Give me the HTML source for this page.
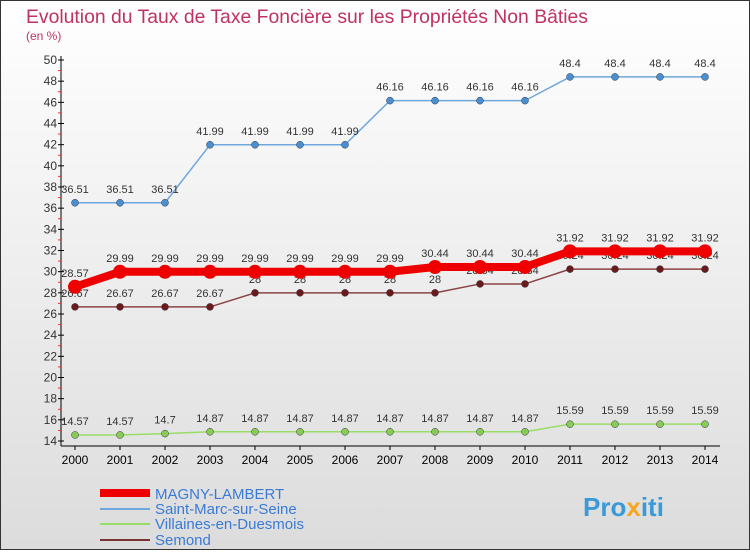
<!DOCTYPE html>
<html><head><meta charset="utf-8"><style>
body{margin:0;}
svg text{font-family:"Liberation Sans",sans-serif;}
</style></head><body>
<svg width="750" height="550" xmlns="http://www.w3.org/2000/svg">
<defs><linearGradient id="bg" x1="0" y1="0" x2="0" y2="1"><stop offset="0" stop-color="#ffffff"/><stop offset="1" stop-color="#dcdcdc"/></linearGradient></defs>
<rect x="0.5" y="0.5" width="749" height="549" fill="url(#bg)" stroke="#333"/>
<text x="26" y="23" font-size="19.5" fill="#c0325f" textLength="562" lengthAdjust="spacingAndGlyphs">Evolution du Taux de Taxe Foncière sur les Propriétés Non Bâties</text>
<text x="26" y="40" font-size="12" fill="#c0325f">(en %)</text>
<g id="axes"></g>
<g id="series"></g>
<g>
<line x1="100" y1="493" x2="150" y2="493" stroke="#ee0000" stroke-width="8"/>
<text x="155" y="499" font-size="15" fill="#3a7bd5">MAGNY-LAMBERT</text>
<line x1="100" y1="509" x2="150" y2="509" stroke="#6fa8dc" stroke-width="2"/>
<text x="155" y="514" font-size="15" fill="#3a7bd5">Saint-Marc-sur-Seine</text>
<line x1="100" y1="524" x2="150" y2="524" stroke="#99dd66" stroke-width="2"/>
<text x="155" y="529" font-size="15" fill="#3a7bd5">Villaines-en-Duesmois</text>
<line x1="100" y1="540" x2="150" y2="540" stroke="#7a3333" stroke-width="2"/>
<text x="155" y="545" font-size="15" fill="#3a7bd5">Semond</text>
</g>
<text x="583" y="516" font-size="26" font-weight="bold" fill="#3a9ad9">Pro<tspan fill="#f5a623">x</tspan>iti</text>
</svg>
<script>
const years=[2000,2001,2002,2003,2004,2005,2006,2007,2008,2009,2010,2011,2012,2013,2014];
const magny=[28.57,29.99,29.99,29.99,29.99,29.99,29.99,29.99,30.44,30.44,30.44,31.92,31.92,31.92,31.92];
const saintMarc=[36.51,36.51,36.51,41.99,41.99,41.99,41.99,46.16,46.16,46.16,46.16,48.4,48.4,48.4,48.4];
const villaines=[14.57,14.57,14.7,14.87,14.87,14.87,14.87,14.87,14.87,14.87,14.87,15.59,15.59,15.59,15.59];
const semond=[26.67,26.67,26.67,26.67,28,28,28,28,28,28.84,28.84,30.24,30.24,30.24,30.24];
const yTicks=[14,16,18,20,22,24,26,28,30,32,34,36,38,40,42,44,46,48,50];
const NS="http://www.w3.org/2000/svg";
const xs=i=>75+(705-75)*i/(years.length-1);
const ys=v=>441-(v-14)*(441-60)/36;
function mk(t,a,p){const e=document.createElementNS(NS,t);for(const k in a)e.setAttribute(k,a[k]);p.appendChild(e);return e;}
const ax=document.getElementById('axes');
const yl=mk('line',{x1:61,y1:56,x2:61,y2:446,stroke:'#000'},ax);


const xl=mk('line',{x1:61,y1:446,x2:720,y2:446,stroke:'#000'},ax);


yTicks.forEach(v=>{const y=ys(v);
mk('line',{x1:58,y1:y,x2:64,y2:y,stroke:'#000'},ax);
if(v<50)mk('line',{x1:58,y1:y-10.6,x2:61,y2:y-10.6,stroke:'#e33'},ax);
const t=mk('text',{x:57,y:y+4,'font-size':12,'text-anchor':'end',fill:'#333'},ax);t.textContent=v;

});
years.forEach((yr,i)=>{const x=xs(i);
mk('line',{x1:x,y1:446,x2:x,y2:450,stroke:'#000'},ax);
const t=mk('text',{x:x,y:464,'font-size':12,'text-anchor':'middle',fill:'#000'},ax);t.textContent=yr;

});
const sg=document.getElementById('series');
function draw(data,color,w,r,name,dot){
const pl=mk('polyline',{points:data.map((v,i)=>xs(i)+','+ys(v)).join(' '),fill:'none',stroke:color,'stroke-width':w,'stroke-linejoin':'round'},sg);


data.forEach((v,i)=>{const c=mk('circle',{cx:xs(i),cy:ys(v),r:r,fill:dot,stroke:w>3?'none':'#334',"stroke-width":0.5},sg);


const t=mk('text',{x:xs(i),y:ys(v)-10,'font-size':11,'text-anchor':'middle',fill:'#333'},sg);t.textContent=v;

});}
draw(saintMarc,'#6fa8dc',1.5,3.5,'saint-marc','#4a90d0');
draw(villaines,'#99dd66',1.5,3.5,'villaines','#88cc55');
draw(semond,'#8b4444',1.5,3.5,'semond','#6a1a1a');
draw(magny,'#ee0000',8,7,'magny-lambert','#ee0000');
</script>
</body></html>
